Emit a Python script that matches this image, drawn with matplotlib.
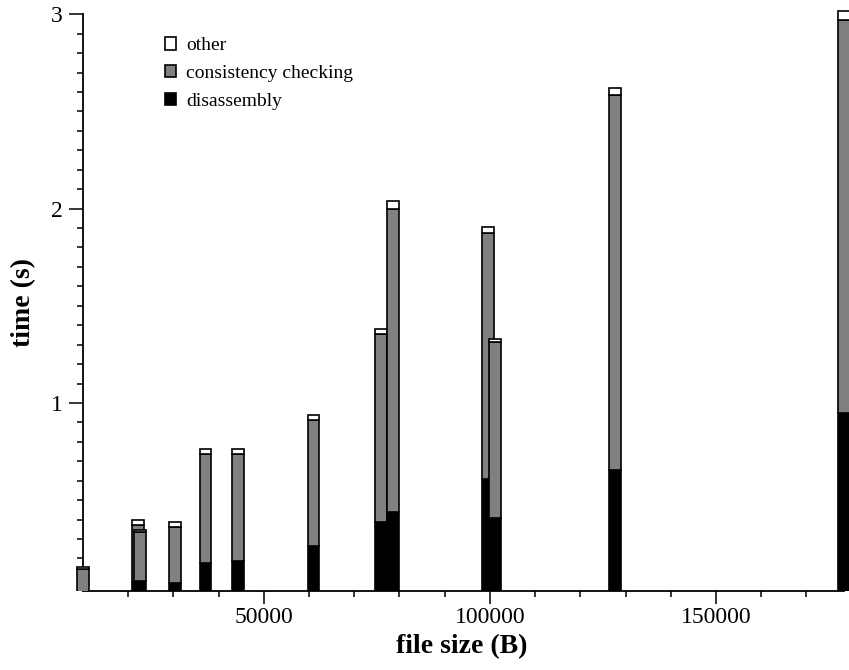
import matplotlib
matplotlib.use('Agg')
import matplotlib.pyplot as plt
from matplotlib.patches import Patch, Rectangle
from matplotlib.ticker import MultipleLocator

plt.rcParams['font.family'] = ['Liberation Serif', 'DejaVu Serif']

# file sizes (B) and the time split (s) per file
file_size = [10100, 22270, 22670, 30400, 37140, 44320, 61010,
             75920, 78570, 99570, 101120, 127700, 178300]
disassembly = [0.02, 0.08, 0.085, 0.075, 0.175, 0.189, 0.266,
               0.387, 0.441, 0.611, 0.407, 0.656, 0.95]
consistency = [0.125, 0.293, 0.253, 0.289, 0.564, 0.55, 0.648,
               0.969, 1.559, 1.262, 0.905, 1.928, 2.022]
other = [0.013, 0.025, 0.008, 0.023, 0.024, 0.024, 0.022,
         0.025, 0.038, 0.032, 0.018, 0.038, 0.043]

series_labels = ['other', 'consistency checking', 'disassembly']
series_colors = ['white', '#808080', 'black']

fig = plt.figure(figsize=(8.49, 6.7), dpi=100)
ax = fig.add_axes([0.0981, 0.1184, 0.8960, 0.8603])

bar_width = 2600
# bars may run past the left/right edge of the axes but not below it
clip_box = Rectangle((-0.03, 0), 1.06, 1.3, transform=ax.transAxes)

for i in range(len(file_size)):
    x = file_size[i]
    bottoms = [0, disassembly[i], disassembly[i] + consistency[i]]
    heights = [disassembly[i], consistency[i], other[i]]
    for b, h, c in zip(bottoms, heights, series_colors[::-1]):
        bars = ax.bar(x, h, bottom=b, width=bar_width, color=c,
                      edgecolor='black', linewidth=1.2, zorder=3)
        for p in bars:
            p.set_clip_path(clip_box)

ax.set_xlim(file_size[0], file_size[-1])
ax.set_ylim(0.034, 3.0)

# axes style
ax.spines['top'].set_visible(False)
ax.spines['right'].set_visible(False)
ax.spines['left'].set_linewidth(1.3)
ax.spines['bottom'].set_linewidth(1.3)

ax.xaxis.set_major_locator(MultipleLocator(50000))
ax.xaxis.set_minor_locator(MultipleLocator(10000))
ax.yaxis.set_major_locator(MultipleLocator(1))
ax.yaxis.set_minor_locator(MultipleLocator(0.1))
ax.tick_params(axis='both', which='major', length=10, width=1.1, labelsize=17)
ax.tick_params(axis='both', which='minor', length=4, width=1.1)
ax.tick_params(axis='x', which='major', length=9, pad=3)
ax.tick_params(axis='y', which='major', pad=5)

ax.set_xlabel('file size (B)', fontsize=20, fontweight='bold')
ax.set_ylabel('time (s)', fontsize=20, fontweight='bold')
ax.xaxis.set_label_coords(0.497, -0.075)
ax.yaxis.set_label_coords(-0.062, 0.5)

# legend with small squares
handles = [Patch(facecolor=c, edgecolor='black', linewidth=1.2) for c in series_colors]
ax.legend(handles, series_labels, loc='upper left', bbox_to_anchor=(0.107, 0.96),
          frameon=False, fontsize=14, handlelength=0.6, handleheight=0.6,
          handletextpad=0.5, labelspacing=0.55, borderpad=0, borderaxespad=0)

plt.savefig('out.png', dpi=100)
